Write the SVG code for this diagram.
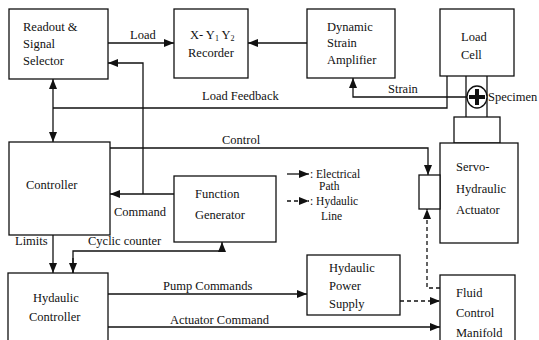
<svg xmlns="http://www.w3.org/2000/svg" width="539" height="340" viewBox="0 0 539 340">
<defs>
<style>
.box{fill:#fff;stroke:#111;stroke-width:1.3}
.ln{fill:none;stroke:#111;stroke-width:1.3}
.dash{fill:none;stroke:#111;stroke-width:1.3;stroke-dasharray:4 3}
text{font-family:'Liberation Serif','DejaVu Serif',serif;font-size:12.5px;fill:#111}
.lg{font-size:11.5px}
</style>
<marker id="ah" markerUnits="userSpaceOnUse" markerWidth="10" markerHeight="8" refX="10" refY="4" orient="auto">
<path d="M0,0 L10,4 L0,8 z" fill="#111"/>
</marker>
</defs>
<rect width="539" height="340" fill="#fff"/>
<g font-family="Liberation Serif, DejaVu Serif, serif">
<g id="connectors">
<line class="ln" x1="108" y1="43" x2="174" y2="43" marker-end="url(#ah)"/>
<text x="130" y="39">Load</text>
<line class="ln" x1="307" y1="43" x2="248" y2="43" marker-end="url(#ah)"/>
<polyline class="ln" points="447,76 447,108 53,108"/>
<line class="ln" x1="53" y1="108" x2="53" y2="79" marker-end="url(#ah)"/>
<line class="ln" x1="53" y1="108" x2="53" y2="142" marker-end="url(#ah)"/>
<text x="202" y="100">Load  Feedback</text>
<polyline class="ln" points="467,97 353,97 353,78" marker-end="url(#ah)"/>
<text x="388" y="93">Strain</text>
<polyline class="ln" points="110,148 428,148 428,175" marker-end="url(#ah)"/>
<text x="222" y="144">Control</text>
<line class="ln" x1="174" y1="194" x2="110" y2="194" marker-end="url(#ah)"/>
<polyline class="ln" points="143,194 143,63 108,63" marker-end="url(#ah)"/>
<text x="114" y="216">Command</text>
<line class="ln" x1="53" y1="235" x2="53" y2="273" marker-end="url(#ah)"/>
<text x="15" y="245">Limits</text>
<polyline class="ln" points="73,273 73,251 222,251 222,242" marker-end="url(#ah)"/>
<line class="ln" x1="73" y1="258" x2="73" y2="273" marker-end="url(#ah)"/>
<text x="88" y="245">Cyclic  counter</text>
<line class="ln" x1="108" y1="294" x2="307" y2="294" marker-end="url(#ah)"/>
<text x="163" y="290">Pump  Commands</text>
<line class="ln" x1="108" y1="327" x2="440" y2="327" marker-end="url(#ah)"/>
<text x="170" y="324">Actuator  Command</text>
<line class="dash" x1="400" y1="301" x2="440" y2="301" marker-end="url(#ah)"/>
<polyline class="dash" points="440,288 427,288 427,209" marker-end="url(#ah)"/>
<line class="ln" x1="287" y1="174" x2="309" y2="174" marker-end="url(#ah)"/>
<text class="lg" x="310" y="178">: Electrical</text>
<text class="lg" x="319" y="190">Path</text>
<line class="dash" x1="287" y1="201" x2="309" y2="201" marker-end="url(#ah)"/>
<text class="lg" x="310" y="205">: Hydaulic</text>
<text class="lg" x="321" y="220">Line</text>
</g>
<g id="readout">
<rect class="box" x="9" y="9" width="99" height="70"/>
<text x="23" y="31">Readout  &amp;</text>
<text x="23" y="48">Signal</text>
<text x="23" y="65">Selector</text>
</g>
<g id="recorder">
<rect class="box" x="174" y="9" width="74" height="69"/>
<text x="190" y="39">X- Y<tspan font-size="8" dy="2">1</tspan><tspan dy="-2"> Y</tspan><tspan font-size="8" dy="2">2</tspan></text>
<text x="188" y="57">Recorder</text>
</g>
<g id="dsa">
<rect class="box" x="307" y="9" width="88" height="69"/>
<text x="327" y="31">Dynamic</text>
<text x="327" y="47">Strain</text>
<text x="327" y="64">Amplifier</text>
</g>
<g id="loadcell">
<rect class="box" x="440" y="9" width="74" height="67"/>
<text x="461" y="41">Load</text>
<text x="461" y="59">Cell</text>
</g>
<g id="specimen">
<line class="ln" x1="466" y1="76" x2="466" y2="117"/>
<line class="ln" x1="487" y1="76" x2="487" y2="117"/>
<ellipse cx="477" cy="97" rx="10" ry="11" fill="#fff" stroke="#111" stroke-width="1.3"/>
<line x1="469" y1="97" x2="485" y2="97" stroke="#111" stroke-width="4"/>
<line x1="477" y1="89" x2="477" y2="105" stroke="#111" stroke-width="4"/>
<text x="488" y="101">Specimen</text>
<rect class="box" x="454" y="117" width="46" height="26"/>
</g>
<g id="actuator">
<rect class="box" x="440" y="143" width="78" height="100"/>
<text x="456" y="171">Servo-</text>
<text x="456" y="193">Hydraulic</text>
<text x="456" y="214">Actuator</text>
<rect class="box" x="419" y="175" width="21" height="34"/>
</g>
<g id="controller">
<rect class="box" x="9" y="142" width="101" height="93"/>
<text x="26" y="189">Controller</text>
</g>
<g id="function-generator">
<rect class="box" x="174" y="176" width="102" height="66"/>
<text x="195" y="198">Function</text>
<text x="195" y="219">Generator</text>
</g>
<g id="hydraulic-controller">
<rect class="box" x="8" y="273" width="100" height="75"/>
<text x="33" y="302">Hydaulic</text>
<text x="29" y="321">Controller</text>
</g>
<g id="power-supply">
<rect class="box" x="307" y="255" width="93" height="60"/>
<text x="329" y="272">Hydaulic</text>
<text x="329" y="290">Power</text>
<text x="329" y="308">Supply</text>
</g>
<g id="manifold">
<rect class="box" x="440" y="275" width="75" height="73"/>
<text x="456" y="297">Fluid</text>
<text x="456" y="317">Control</text>
<text x="456" y="337">Manifold</text>
</g>
</g>
</svg>
